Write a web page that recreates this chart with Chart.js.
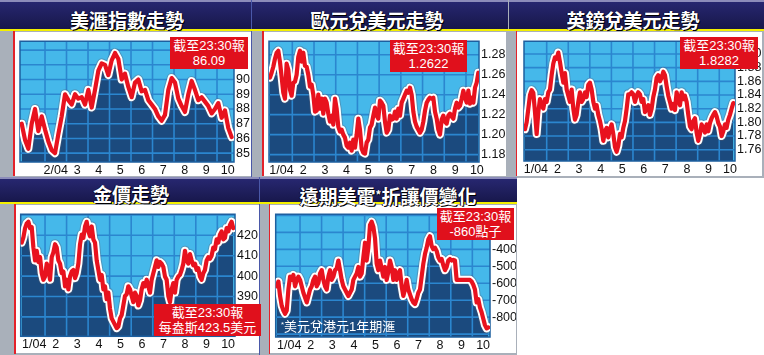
<!DOCTYPE html>
<html>
<head>
<meta charset="utf-8">
<script src="https://cdn.jsdelivr.net/npm/chart.js@4.4.1/dist/chart.umd.min.js"></script>
<style>
body { margin: 0; width: 764px; height: 355px; background: #fff; position: relative; overflow: hidden; }
div, canvas { position: absolute; }
.frame { background: #a9b0ba; }
.head { background: linear-gradient(#272770, #17174a); border-top: 2px solid #8c8cba; box-sizing: border-box; }
.yel { background: #f3ef00; }
.redv { background: #e3222a; }
.white { background: #fff; }
.title { color: #fff; text-align: center; font: bold 19px "Noto Sans CJK TC", sans-serif; text-shadow: 1px 1px 0 #000, -1px 0 0 #0a0a30; white-space: nowrap; }
.title sup, .note sup { font-size: 60%; vertical-align: 0.45em; }
.box { background: #e0101c; color: #fff; text-align: center; font: 13px "Liberation Sans", "Noto Sans CJK TC", sans-serif; line-height: 15px; padding-top: 1px; box-sizing: border-box; white-space: nowrap; }
.note { color: #fff; font: 13px "Liberation Sans", "Noto Sans CJK TC", sans-serif; white-space: nowrap; }
</style>
</head>
<body>
<!-- frames -->
<div class="frame" style="left:0;top:0;width:251px;height:178px"></div>
<div class="frame" style="left:252px;top:0;width:254px;height:178px"></div>
<div class="frame" style="left:506px;top:0;width:258px;height:178px"></div>
<div class="frame" style="left:0;top:177px;width:259px;height:178px"></div>
<div class="frame" style="left:260px;top:177px;width:257px;height:178px"></div>
<div style="left:251px;top:0;width:1px;height:178px;background:#4a58a8"></div>
<div style="left:259px;top:177px;width:1px;height:178px;background:#4a58a8"></div>

<div class="head" style="left:0;top:0;width:251px;height:29px"></div>
<div class="head" style="left:252px;top:0;width:256px;height:29px"></div>
<div class="head" style="left:509px;top:0;width:255px;height:29px"></div>
<div class="head" style="left:0;top:177px;width:259px;height:26px"></div>
<div class="head" style="left:260px;top:177px;width:257px;height:26px"></div>

<div class="yel" style="left:0;top:29px;width:764px;height:2px"></div>
<div class="yel" style="left:0;top:202px;width:517px;height:2px"></div>

<div class="redv" style="left:13px;top:31px;width:1.5px;height:145px"></div>
<div class="redv" style="left:262px;top:31px;width:1.5px;height:145px"></div>
<div class="redv" style="left:515.5px;top:31px;width:1.5px;height:145px"></div>
<div class="redv" style="left:14px;top:204px;width:1.5px;height:150px"></div>
<div class="redv" style="left:268.5px;top:204px;width:1.5px;height:150px"></div>

<div class="white" style="left:14.5px;top:32px;width:236.5px;height:144px"></div>
<div class="white" style="left:263.5px;top:32px;width:242.5px;height:144px"></div>
<div class="white" style="left:517px;top:32px;width:245px;height:144px"></div>
<div class="white" style="left:15.5px;top:205px;width:243.5px;height:148px"></div>
<div class="white" style="left:270px;top:205px;width:246px;height:148px"></div>

<div class="title" style="left:27px;top:6px;width:200px;line-height:28px">美滙指數走勢</div>
<div class="title" style="left:277px;top:6px;width:200px;line-height:28px">歐元兌美元走勢</div>
<div class="title" style="left:533px;top:6px;width:200px;line-height:28px">英鎊兌美元走勢</div>
<div class="title" style="left:31px;top:180px;width:200px;line-height:28px">金價走勢</div>
<div class="title" style="left:288px;top:180px;width:200px;line-height:28px">遠期美電<sup>*</sup>折讓價變化</div>

<canvas id="c1" width="236" height="143" style="left:15px;top:33px"></canvas>
<canvas id="c2" width="242" height="143" style="left:264px;top:33px"></canvas>
<canvas id="c3" width="245" height="143" style="left:517px;top:33px"></canvas>
<canvas id="c4" width="244" height="147" style="left:15px;top:206px"></canvas>
<canvas id="c5" width="246" height="147" style="left:270px;top:206px"></canvas>

<div class="box" style="left:170px;top:37px;width:78px;height:32px">截至23:30報<br>86.09</div>
<div class="box" style="left:390px;top:40px;width:77px;height:32px">截至23:30報<br>1.2622</div>
<div class="box" style="left:680px;top:37px;width:78px;height:32px">截至23:30報<br>1.8282</div>
<div class="box" style="left:154px;top:304px;width:107px;height:32px">截至23:30報<br>每盎斯423.5美元</div>
<div class="box" style="left:437px;top:208px;width:77px;height:32px">截至23:30報<br>-860點子</div>
<div class="note" style="left:281px;top:316px;line-height:17px"><sup>*</sup>美元兌港元1年期滙</div>

<script>
// 月份標籤
const monthLabels = ['1/04', '2', '3', '4', '5', '6', '7', '8', '9', '10'];
const usdLabels = ['2/04', '3', '4', '5', '6', '7', '8', '9', '10'];

// 美滙指數
const usdIndex = [87.0, 85.9, 85.3, 87.0, 88.0, 86.5, 87.5, 86.6, 85.8, 85.2, 85.0, 86.3, 87.5, 89.0, 88.6, 88.3,
  89.0, 88.7, 88.8, 88.3, 89.3, 88.1, 89.3, 90.6, 91.1, 91.0, 90.3, 91.3, 91.8, 91.4, 90.0, 90.4,
  89.5, 88.8, 89.8, 90.0, 89.2, 89.3, 88.6, 88.3, 88.0, 87.5, 87.2, 87.6, 89.3, 90.1, 89.8, 88.7,
  88.2, 87.8, 89.0, 89.9, 89.3, 88.6, 88.8, 88.5, 88.2, 87.7, 88.0, 88.4, 87.4, 87.9, 86.7, 86.09];
const usdTicks = [85, 86, 87, 88, 89, 90];

// 歐元兌美元
const eurUsd = [1.257, 1.262, 1.268, 1.276, 1.282, 1.284, 1.273, 1.258, 1.242, 1.236, 1.271, 1.265, 1.245, 1.239,
  1.252, 1.253, 1.260, 1.278, 1.284, 1.273, 1.282, 1.269, 1.268, 1.260, 1.248, 1.250, 1.240, 1.223,
  1.224, 1.240, 1.226, 1.236, 1.221, 1.236, 1.232, 1.221, 1.213, 1.219, 1.210, 1.236, 1.226, 1.208,
  1.203, 1.205, 1.200, 1.197, 1.189, 1.187, 1.192, 1.184, 1.195, 1.187, 1.200, 1.216, 1.205, 1.186,
  1.182, 1.181, 1.192, 1.195, 1.207, 1.210, 1.219, 1.227, 1.219, 1.216, 1.234, 1.232, 1.229, 1.213,
  1.202, 1.205, 1.219, 1.215, 1.216, 1.223, 1.216, 1.226, 1.219, 1.232, 1.236, 1.240, 1.244, 1.242,
  1.247, 1.240, 1.223, 1.213, 1.208, 1.205, 1.202, 1.205, 1.213, 1.224, 1.232, 1.235, 1.237, 1.236,
  1.237, 1.223, 1.216, 1.205, 1.200, 1.215, 1.219, 1.213, 1.211, 1.219, 1.221, 1.218, 1.216, 1.226,
  1.232, 1.227, 1.229, 1.236, 1.244, 1.237, 1.232, 1.244, 1.231, 1.237, 1.232, 1.247, 1.252, 1.262];
const eurTicks = [1.18, 1.20, 1.22, 1.24, 1.26, 1.28];

// 英鎊兌美元
const gbpUsd = [1.790, 1.800, 1.820, 1.840, 1.847, 1.843, 1.815, 1.783, 1.815, 1.834, 1.825, 1.820, 1.834, 1.830,
  1.844, 1.848, 1.869, 1.886, 1.895, 1.893, 1.902, 1.888, 1.872, 1.858, 1.872, 1.848, 1.839, 1.830,
  1.848, 1.820, 1.804, 1.811, 1.830, 1.844, 1.830, 1.834, 1.844, 1.837, 1.855, 1.858, 1.848, 1.830,
  1.820, 1.825, 1.811, 1.802, 1.790, 1.773, 1.787, 1.792, 1.778, 1.790, 1.797, 1.783, 1.764, 1.757,
  1.766, 1.783, 1.778, 1.792, 1.802, 1.820, 1.841, 1.841, 1.844, 1.841, 1.830, 1.839, 1.844, 1.841,
  1.830, 1.834, 1.815, 1.820, 1.825, 1.811, 1.820, 1.837, 1.848, 1.865, 1.869, 1.860, 1.865, 1.874,
  1.869, 1.853, 1.839, 1.830, 1.820, 1.827, 1.818, 1.844, 1.834, 1.825, 1.844, 1.834, 1.839, 1.830,
  1.811, 1.794, 1.790, 1.802, 1.806, 1.785, 1.773, 1.783, 1.797, 1.792, 1.785, 1.797, 1.787, 1.799,
  1.806, 1.811, 1.815, 1.809, 1.799, 1.794, 1.780, 1.787, 1.797, 1.792, 1.804, 1.811, 1.820, 1.8282];
const gbpTicks = [1.76, 1.78, 1.80, 1.82, 1.84, 1.86, 1.88, 1.90];

// 金價 (美元/盎斯)
const gold = [416.4, 419.0, 423.5, 425.8, 426.6, 423.5, 424.0, 414.0, 407.7, 412.4, 406.9, 409.3, 401.4, 398.2,
  399.8, 406.1, 403.0, 398.2, 409.3, 411.6, 415.6, 414.0, 407.7, 406.1, 401.4, 402.2, 395.0, 398.2,
  393.5, 399.8, 402.2, 403.0, 399.0, 401.4, 406.1, 415.6, 420.3, 418.7, 424.3, 426.6, 421.9, 419.5,
  424.3, 418.0, 416.4, 407.7, 403.0, 398.2, 400.6, 393.5, 395.0, 388.7, 391.9, 384.0, 379.3, 377.7,
  376.1, 374.5, 375.3, 379.3, 380.9, 385.6, 390.3, 391.1, 395.0, 393.5, 390.3, 387.2, 391.9, 390.3,
  385.6, 388.0, 393.5, 396.6, 395.0, 398.2, 395.0, 391.9, 398.2, 401.4, 404.5, 407.7, 404.5, 406.9,
  406.1, 404.5, 399.8, 398.2, 390.3, 387.2, 393.5, 396.6, 391.9, 398.2, 399.8, 400.6, 403.0, 406.1,
  412.4, 407.7, 406.1, 410.8, 407.7, 405.3, 406.1, 403.0, 403.8, 399.8, 398.2, 401.4, 403.0, 407.7,
  409.3, 408.5, 410.0, 414.0, 413.2, 418.0, 416.4, 420.3, 421.9, 418.0, 418.7, 423.5, 421.9, 425.0,
  426.6, 423.5];
const goldTicks = [390, 400, 410, 420];

// 遠期美電折讓 (點子)
const fwdPoints = [-618, -590, -675, -733, -761, -780, -761, -637, -561, -580, -551, -618, -580, -561, -580, -618,
  -656, -685, -713, -675, -637, -618, -580, -561, -618, -599, -542, -523, -580, -618, -637, -561,
  -523, -580, -561, -523, -513, -466, -523, -580, -618, -637, -656, -675, -656, -637, -580, -561,
  -542, -504, -561, -542, -447, -361, -466, -390, -256, -237, -266, -333, -485, -523, -466, -513,
  -561, -504, -580, -533, -466, -504, -580, -523, -580, -542, -523, -618, -675, -637, -580, -637,
  -666, -694, -713, -723, -694, -656, -637, -561, -485, -428, -390, -342, -323, -380, -399, -390,
  -409, -447, -466, -457, -494, -523, -504, -466, -457, -466, -462, -466, -580, -580, -580, -580,
  -580, -580, -580, -580, -580, -590, -609, -637, -713, -694, -742, -771, -809, -847, -866, -860];
const fwdTicks = [-800, -700, -600, -500, -400];

const tickFont = { family: '"Liberation Sans", Arial, sans-serif', size: 12.5, lineHeight: 1 };

const panelGrid = {
  id: 'panelGrid',
  beforeDatasetsDraw(chart) {
    const a = chart.chartArea, c = chart.ctx;
    c.save();
    c.fillStyle = '#45b8ea';
    c.fillRect(a.left, a.top, a.right - a.left, a.bottom - a.top);
    c.restore();
  },
  afterDatasetDraw(chart, args, opts) {
    if (args.index !== 0) return;
    const a = chart.chartArea, c = chart.ctx;
    const sx = chart.scales.x, sy = chart.scales.y;
    c.save();
    c.beginPath();
    c.rect(a.left, a.top, a.right - a.left, a.bottom - a.top);
    c.clip();
    c.strokeStyle = '#2b86cf';
    c.lineWidth = 1.6;
    c.beginPath();
    opts.xs.forEach(v => { const p = sx.getPixelForValue(v); c.moveTo(p, a.top); c.lineTo(p, a.bottom); });
    opts.ys.forEach(v => { const p = sy.getPixelForValue(v); c.moveTo(a.left, p); c.lineTo(a.right, p); });
    c.stroke();
    c.restore();
    c.save();
    c.strokeStyle = '#1d5f9f';
    c.lineWidth = 1.5;
    c.strokeRect(a.left, a.top, a.right - a.left, a.bottom - a.top);
    c.restore();
  }
};

function drawPanel(id, p) {
  const n = p.values.length;
  const pts = p.values.map((v, i) => ({ x: p.x0 + i * (p.x1 - p.x0) / (n - 1), y: v }));
  const line = { pointRadius: 0, fill: false, tension: 0, borderJoinStyle: 'round', borderCapStyle: 'round' };
  new Chart(document.getElementById(id), {
    type: 'line',
    data: {
      datasets: [
        { data: pts, borderWidth: 0, borderColor: 'rgba(0,0,0,0)', backgroundColor: '#1b4a7e', fill: 'start', pointRadius: 0, order: 4 },
        Object.assign({ data: pts, borderColor: 'rgba(90,90,110,0.35)', borderWidth: 10, order: 3 }, line),
        Object.assign({ data: pts, borderColor: '#ffffff', borderWidth: 8, order: 2 }, line),
        Object.assign({ data: pts, borderColor: '#e8121e', borderWidth: 4.2, order: 1 }, line)
      ]
    },
    options: {
      responsive: false,
      animation: false,
      devicePixelRatio: 1,
      layout: { padding: { left: p.padL, top: p.padT, right: 0, bottom: 0 } },
      plugins: {
        legend: { display: false },
        tooltip: { enabled: false },
        panelGrid: { xs: [1, 2, 3, 4, 5, 6, 7, 8, 9], ys: p.gridY }
      },
      scales: {
        x: {
          type: 'linear', min: p.xMin, max: p.xMax, bounds: 'data',
          grid: { display: false, drawTicks: false }, border: { display: false },
          afterBuildTicks: ax => { ax.ticks = p.labels.map((l, i) => ({ value: p.firstLabel + i + 0.5 })); },
          afterFit: ax => { ax.height = p.xH; },
          ticks: { padding: 2, color: '#111', font: tickFont, autoSkip: false, maxRotation: 0, minRotation: 0,
                   callback: (v, i) => p.labels[i] }
        },
        y: {
          type: 'linear', position: 'right', min: p.yMin, max: p.yMax, bounds: 'data',
          grid: { display: false, drawTicks: false }, border: { display: false },
          afterBuildTicks: ax => { ax.ticks = p.yTicks.map(v => ({ value: v })); },
          afterFit: ax => { ax.width = p.yW; },
          ticks: { padding: 2, color: '#111', font: tickFont, callback: v => v.toFixed(p.dec) }
        }
      }
    },
    plugins: [panelGrid]
  });
}

drawPanel('c1', { values: usdIndex, x0: -0.084, x1: 9.68, xMin: -0.163, xMax: 9.79,
  yMin: 84.4, yMax: 92.6, yTicks: usdTicks, gridY: [85, 86, 87, 88, 89, 90, 91, 92], dec: 0,
  labels: usdLabels, firstLabel: 1, padL: 5, padT: 3, yW: 17, xH: 14 });

drawPanel('c2', { values: eurUsd, x0: -0.03, x1: 9.57, xMin: -0.074, xMax: 9.60,
  yMin: 1.1726, yMax: 1.2935, yTicks: eurTicks, gridY: eurTicks, dec: 2,
  labels: monthLabels, firstLabel: 0, padL: 5, padT: 4, yW: 27, xH: 14 });

drawPanel('c3', { values: gbpUsd, x0: -0.006, x1: 9.65, xMin: -0.052, xMax: 9.73,
  yMin: 1.7435, yMax: 1.9186, yTicks: gbpTicks, gridY: gbpTicks, dec: 2,
  labels: monthLabels, firstLabel: 0, padL: 7, padT: 4, yW: 27, xH: 15 });

drawPanel('c4', { values: gold, x0: -0.082, x1: 9.74, xMin: -0.13, xMax: 9.82,
  yMin: 370.5, yMax: 430.3, yTicks: goldTicks, gridY: [380, 390, 400, 410, 420, 430], dec: 0,
  labels: monthLabels, firstLabel: 0, padL: 5.7, padT: 4.3, yW: 24, xH: 16.7 });

drawPanel('c5', { values: fwdPoints, x0: -0.082, x1: 9.74, xMin: -0.13, xMax: 9.82,
  yMin: -917, yMax: -193, yTicks: fwdTicks, gridY: [-900, -800, -700, -600, -500, -400, -300, -200], dec: 0,
  labels: monthLabels, firstLabel: 0, padL: 5.7, padT: 4.3, yW: 26, xH: 16 });
</script>
</body>
</html>
